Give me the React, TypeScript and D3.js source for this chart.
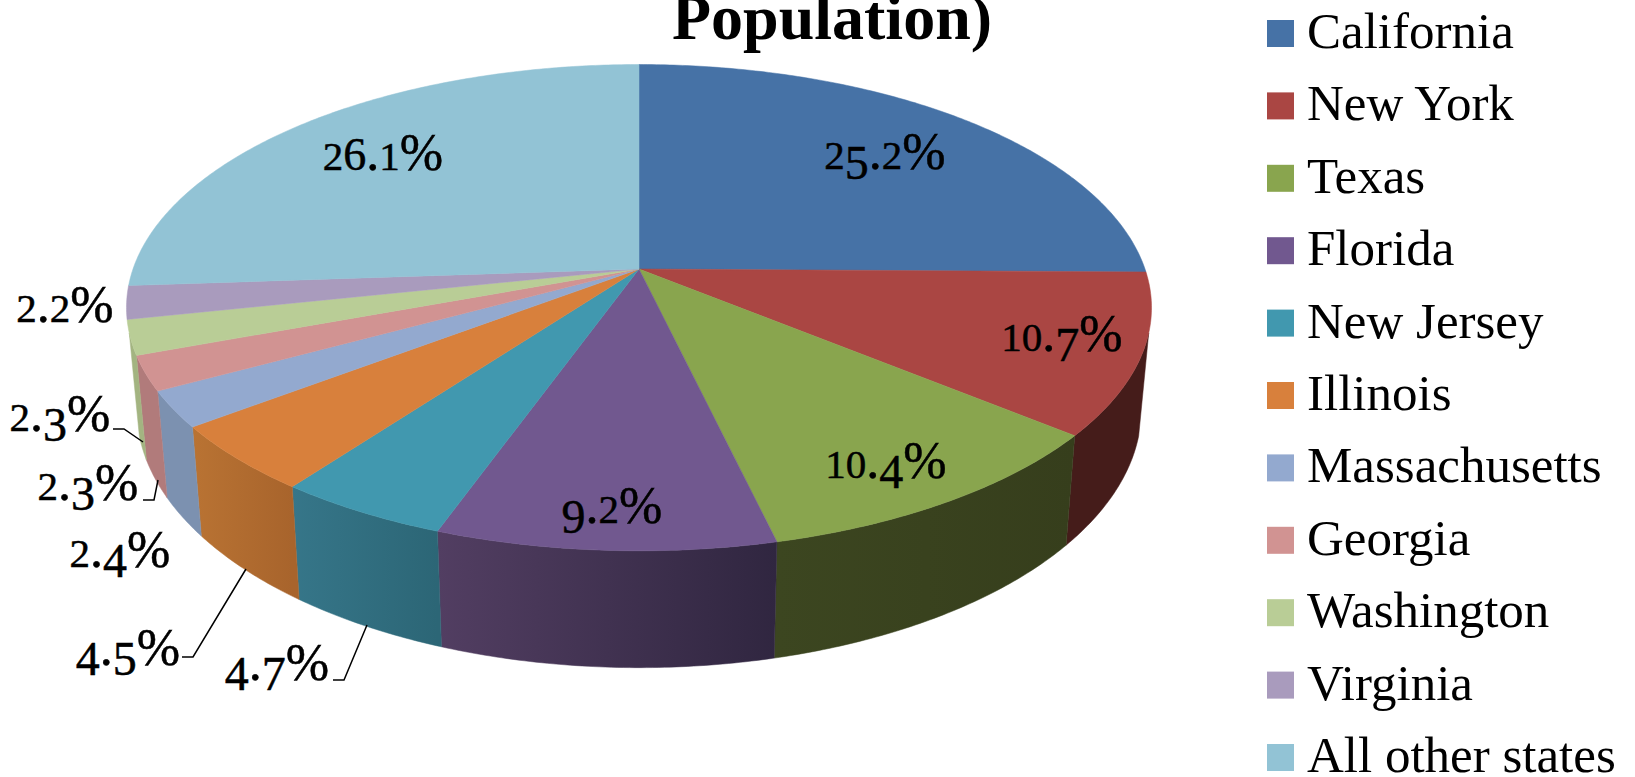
import * as d3 from "d3";

const states = ["California", "New York", "Texas", "Florida", "New Jersey", "Illinois", "Massachusetts", "Georgia", "Washington", "Virginia", "All other states"];
const shares = [25.2, 10.7, 10.4, 9.2, 4.7, 4.5, 2.4, 2.3, 2.3, 2.2, 26.1];
const topColors = ["#4672a6", "#aa4643", "#89a54e", "#71588f", "#4198af", "#d8803c", "#93a9cf", "#d19392", "#b9cd96", "#a99bbd", "#92c3d5"];
const wallFrom = ["#2c4566", "#451c1a", "#3c4620", "#523e62", "#367689", "#b97333", "#7c91b0", "#b17b7b", "#a3b481", "#807494", "#6f95a3"];
const wallTo = ["#2c4566", "#451c1a", "#363e1c", "#302640", "#2c6676", "#a8642c", "#7c91b0", "#b17b7b", "#a3b481", "#807494", "#6f95a3"];

// layout only: label baseline centre per slice, and leader lines for the outside ones
const labelPos: [number, number][] = [[885, 169], [1062, 351], [886, 478], [612, 523], [277, 680], [128, 665], [120, 567], [88, 500], [60, 431], [65, 322], [383, 170]];
const leaders: { slice: number; pts: [number, number][] }[] = [
    { slice: 4, pts: [[333, 680], [344, 680], [367, 625]] },
    { slice: 5, pts: [[182, 657], [193, 657], [246, 569]] },
    { slice: 7, pts: [[143, 500], [154, 500], [158, 480]] },
    { slice: 8, pts: [[113, 429], [124, 429], [143, 442]] },
];

const W = 1635, H = 777;
const FONT = "'Liberation Serif', serif";

// perspective disc: hub is not the ellipse centre, the front is nearer than the back
const K = -0.159;
const topDisc = { cx: 639, cy: 269, rx: 506, ry: 237 };
const bottomDisc = { cx: 639, cy: 368, rx: 496, ry: 252 };
const WALL_START = (105 * Math.PI) / 180;
const WALL_END = (255 * Math.PI) / 180;

type Disc = typeof topDisc;
const project = ( a: number, d: Disc ): [number, number] =>
{
    const u = Math.sin( a ), v = -Math.cos( a ), w = 1 + K * v;
    return [d.cx + ( d.rx * u ) / w, d.cy + ( d.ry * v ) / w];
};
const sweep = ( a0: number, a1: number ) =>
{
    const n = Math.max( 2, Math.ceil( ( a1 - a0 ) / 0.01 ) );
    return d3.range( n + 1 ).map( ( i ) => a0 + ( ( a1 - a0 ) * i ) / n );
};

const line = d3.line();
const arcs = d3.pie<number>().sort( null ).value( ( d ) => d ).startAngle( 0 ).endAngle( 2 * Math.PI )( shares );

// Old-style figures are not in the installed serifs, so size and drop digits one by one
const SMALL = new Set( ["0", "1", "2"] );
const DROP = new Set( ["3", "4", "5", "7", "9"] );
function OldStyle ( { text }: { text: string } )
{
    let prev = 0;
    return (
        <>
            { text.split( "" ).map( ( c, i ) =>
            {
                const shift = DROP.has( c ) ? 10 : 0;
                const dy = shift - prev;
                prev = shift;
                const size = SMALL.has( c ) ? 41 : DROP.has( c ) ? 48 : c === "6" ? 46 : 52;
                return <tspan key={ i } dy={ dy } fontSize={ size }>{ c }</tspan>;
            } ) }
        </>
    );
}

export default function App ()
{
    return (
        <svg width={ W } height={ H } viewBox={ `0 0 ${ W } ${ H }` } style={ { position: "absolute", left: 0, top: 0, background: "#fff" } } fontFamily={ FONT }>
            <defs>
                { arcs.map( ( s, i ) =>
                {
                    const xs = sweep( Math.max( s.startAngle, WALL_START ), Math.min( s.endAngle, WALL_END ) ).map( ( a ) => project( a, topDisc )[0] );
                    return (
                        <linearGradient key={ i } id={ `wall${ i }` } gradientUnits="userSpaceOnUse" x1={ d3.min( xs ) } x2={ d3.max( xs ) } y1={ 0 } y2={ 0 }>
                            <stop offset="0" stopColor={ wallFrom[i] } />
                            <stop offset="1" stopColor={ wallTo[i] } />
                        </linearGradient>
                    );
                } ) }
            </defs>

            <text x={ 832 } y={ 39 } textAnchor="middle" fontWeight="bold" fontSize={ 64 }>Population)</text>

            { arcs.map( ( s, i ) =>
            {
                const a0 = Math.max( s.startAngle, WALL_START ), a1 = Math.min( s.endAngle, WALL_END );
                if ( a1 <= a0 ) return null;
                const angles = sweep( a0, a1 );
                const pts = [...angles.map( ( a ) => project( a, topDisc ) ), ...angles.reverse().map( ( a ) => project( a, bottomDisc ) )];
                return <path key={ i } d={ line( pts ) + "Z" } fill={ `url(#wall${ i })` } stroke={ `url(#wall${ i })` } strokeWidth={ 0.5 } />;
            } ) }

            { arcs.map( ( s, i ) =>
            {
                const pts: [number, number][] = [[topDisc.cx, topDisc.cy], ...sweep( s.startAngle, s.endAngle ).map( ( a ) => project( a, topDisc ) )];
                return <path key={ i } d={ line( pts ) + "Z" } fill={ topColors[i] } stroke={ topColors[i] } strokeWidth={ 0.5 } />;
            } ) }

            { leaders.map( ( l ) => <path key={ l.slice } d={ line( l.pts ) ?? "" } fill="none" stroke="#000" strokeWidth={ 1.5 } /> ) }

            { shares.map( ( v, i ) => (
                <text key={ i } x={ labelPos[i][0] } y={ labelPos[i][1] } textAnchor="middle" fill="#000" stroke="#000" strokeWidth={ 0.5 }>
                    <OldStyle text={ `${ v.toFixed( 1 ) }%` } />
                </text>
            ) ) }

            { states.map( ( name, i ) => (
                <g key={ name } transform={ `translate(1267,${ 20 + i * 72.4 })` }>
                    <rect width={ 27 } height={ 27 } fill={ topColors[i] } />
                    <text x={ 40 } y={ 28 } fontSize={ 51 } fill="#000">{ name }</text>
                </g>
            ) ) }
        </svg>
    );
}
